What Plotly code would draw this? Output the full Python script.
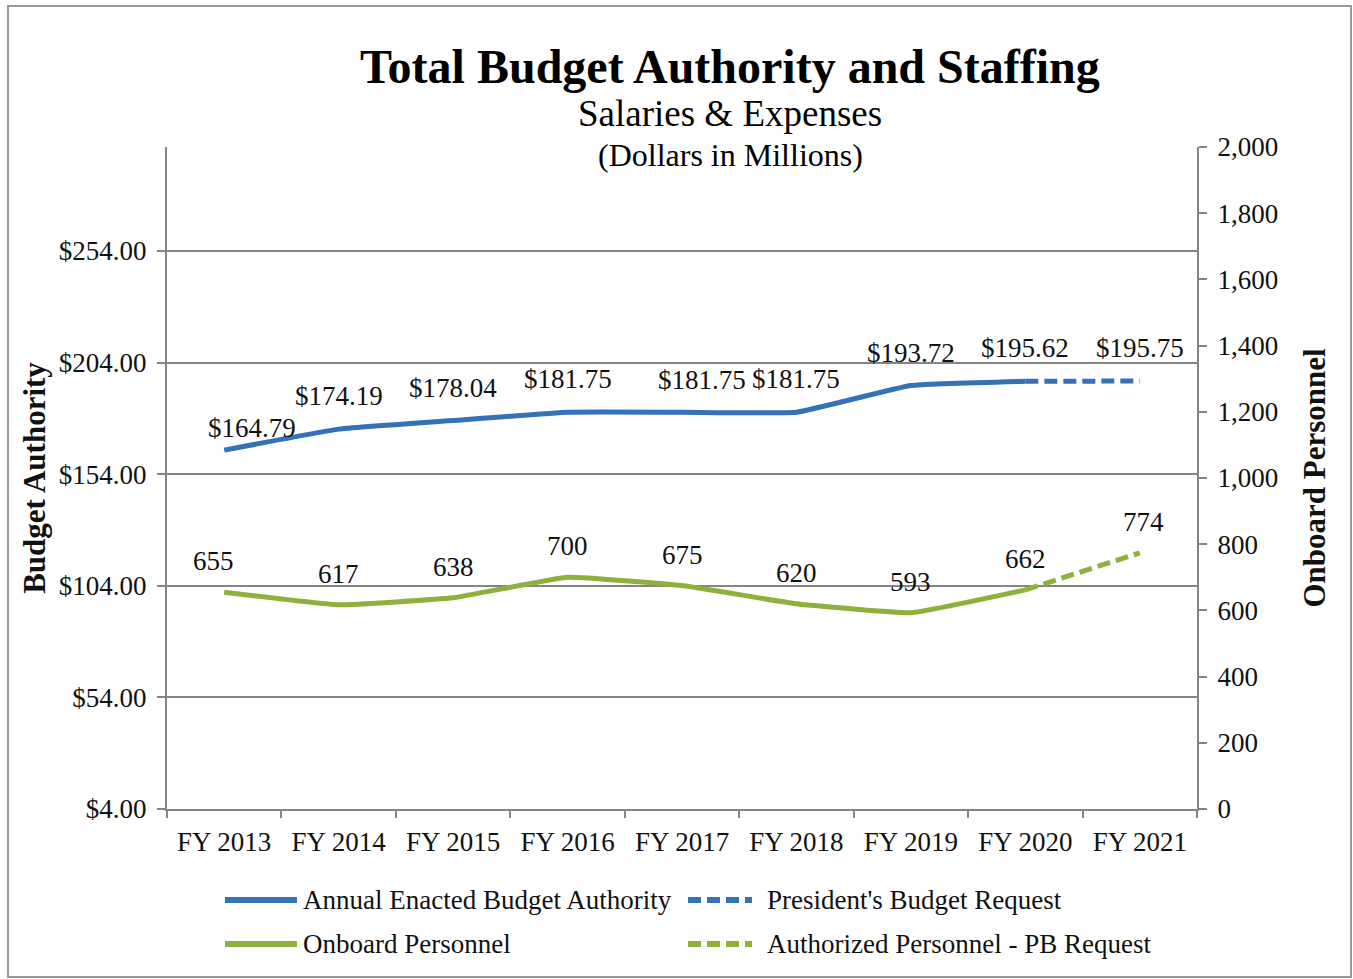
import plotly.graph_objects as go

# Fiscal years on the category axis
fiscal_years = ["FY 2013", "FY 2014", "FY 2015", "FY 2016", "FY 2017",
                "FY 2018", "FY 2019", "FY 2020", "FY 2021"]

# Annual enacted budget authority, $ millions (FY 2013 - FY 2020)
enacted_budget = [164.79, 174.19, 178.04, 181.75, 181.75, 181.75, 193.72, 195.62]
# President's budget request leg (FY 2020 -> FY 2021)
pb_request_budget = [195.62, 195.75]

# Onboard personnel (FY 2013 - FY 2020)
onboard_personnel = [655, 617, 638, 700, 675, 620, 593, 662]
# Authorized personnel, PB request leg (FY 2020 -> FY 2021)
authorized_personnel = [662, 774]

# Left axis tick labels
budget_ticks = [4, 54, 104, 154, 204, 254]
budget_tick_text = ["$4.00", "$54.00", "$104.00", "$154.00", "$204.00", "$254.00"]
# Right axis ticks
staff_ticks = list(range(0, 2001, 200))
staff_tick_text = [f"{v:,}" for v in staff_ticks]

BLUE = "#3471B6"
GREEN = "#8DB13C"
AXIS = "#858585"
INK = "#111111"
FONT = "Liberation Serif"
DASH = "13px,6px"

W, H = 1353, 979
L, R, T, B = 167, 156, 147, 170
pw, ph = W - L - R, H - T - B


def px_to_paper(px, py):
    return (px - L) / pw, (H - B - py) / ph


x_main = list(range(len(enacted_budget)))
x_req = [len(enacted_budget) - 1, len(fiscal_years) - 1]

fig = go.Figure()

fig.add_trace(go.Scatter(
    x=x_main, y=enacted_budget, mode="lines", name="Annual Enacted Budget Authority",
    line=dict(color=BLUE, width=5, shape="spline", smoothing=0.3), yaxis="y",
))
fig.add_trace(go.Scatter(
    x=x_req, y=pb_request_budget, mode="lines", name="President's Budget Request",
    line=dict(color=BLUE, width=5, dash=DASH), yaxis="y",
))
fig.add_trace(go.Scatter(
    x=x_main, y=onboard_personnel, mode="lines", name="Onboard Personnel",
    line=dict(color=GREEN, width=5, shape="spline", smoothing=0.3), yaxis="y2",
))
fig.add_trace(go.Scatter(
    x=x_req, y=authorized_personnel, mode="lines", name="Authorized Personnel - PB Request",
    line=dict(color=GREEN, width=5, dash=DASH), yaxis="y2",
))

# Value labels above each point
budget_values = enacted_budget + [pb_request_budget[-1]]
budget_nudge = {0: (28, 22), 4: (20, 32)}
for i, v in enumerate(budget_values):
    dx, dy = budget_nudge.get(i, (0, 33))
    fig.add_annotation(
        x=i, y=v, yref="y", text=f"${v:,.2f}", showarrow=False,
        xshift=dx, yshift=dy,
        font=dict(family=FONT, size=27, color=INK),
    )

staff_values = onboard_personnel + [authorized_personnel[-1]]
staff_nudge = {0: -11, 8: 4}
for i, v in enumerate(staff_values):
    fig.add_annotation(
        x=i, y=v, yref="y2", text=f"{v:,}", showarrow=False,
        xshift=staff_nudge.get(i, 0), yshift=31,
        font=dict(family=FONT, size=27, color=INK),
    )

# Title block
for text, size, cy in [
    ("<b>Total Budget Authority and Staffing</b>", 48, 66),
    ("Salaries &amp; Expenses", 37, 114),
    ("(Dollars in Millions)", 32, 155),
]:
    xp, yp = px_to_paper(730, cy)
    fig.add_annotation(
        x=xp, y=yp, xref="paper", yref="paper", text=text, showarrow=False,
        xanchor="center", yanchor="middle",
        font=dict(family=FONT, size=size, color="#000000"),
    )

# Legend drawn as line samples plus labels, two columns by two rows
legend_items = [
    ("Annual Enacted Budget Authority", BLUE, "solid", 225, 297, 301, 900),
    ("President's Budget Request", BLUE, DASH, 688, 752, 765, 900),
    ("Onboard Personnel", GREEN, "solid", 225, 297, 301, 944),
    ("Authorized Personnel - PB Request", GREEN, DASH, 688, 752, 765, 944),
]
for label, color, dash, sx0, sx1, tx, cy in legend_items:
    ax0, ay = px_to_paper(sx0, cy)
    ax1, _ = px_to_paper(sx1, cy)
    fig.add_shape(type="line", xref="paper", yref="paper", x0=ax0, x1=ax1, y0=ay, y1=ay,
                  line=dict(color=color, width=6, dash=dash))
    txp, _ = px_to_paper(tx, cy)
    fig.add_annotation(x=txp, y=ay, xref="paper", yref="paper", text=label,
                       showarrow=False, xanchor="left", yanchor="middle",
                       font=dict(family=FONT, size=27, color=INK))

# Outer chart frame
x0, y1 = px_to_paper(8, 6)
x1, y0 = px_to_paper(1351, 977)
fig.add_shape(type="rect", xref="paper", yref="paper", x0=x0, x1=x1, y0=y0, y1=y1,
              line=dict(color="#9A9A9A", width=2), layer="below")

fig.update_layout(
    width=W, height=H,
    margin=dict(l=L, r=R, t=T, b=B, autoexpand=False),
    paper_bgcolor="white", plot_bgcolor="white",
    font=dict(family=FONT, size=27, color=INK),
    showlegend=False,
    xaxis=dict(
        range=[-0.5, len(fiscal_years) - 0.5],
        tickmode="array", tickvals=list(range(len(fiscal_years))), ticktext=fiscal_years,
        ticks="", showgrid=False, zeroline=False, automargin=False,
        showline=True, linecolor=AXIS, linewidth=2, ticklabelstandoff=8,
        tickfont=dict(family=FONT, size=27, color=INK),
        minor=dict(tickmode="array", tickvals=[i - 0.5 for i in range(len(fiscal_years) + 1)],
                   ticks="outside", ticklen=7, tickcolor=AXIS, tickwidth=2, showgrid=False),
    ),
    yaxis=dict(
        range=[4, 300.6],
        tickmode="array", tickvals=budget_ticks, ticktext=budget_tick_text,
        ticks="outside", ticklen=8, tickcolor=AXIS, tickwidth=2, ticklabelstandoff=5,
        showgrid=True, gridcolor=AXIS, gridwidth=2, automargin=False,
        zeroline=False, showline=True, linecolor=AXIS, linewidth=2,
        tickfont=dict(family=FONT, size=27, color=INK),
        title=dict(text="<b>Budget Authority</b>", standoff=4,
                   font=dict(family=FONT, size=31, color=INK)),
    ),
    yaxis2=dict(
        range=[0, 2000], overlaying="y", side="right",
        tickmode="array", tickvals=staff_ticks, ticktext=staff_tick_text,
        ticks="outside", ticklen=8, tickcolor=AXIS, tickwidth=2, automargin=False,
        ticklabelstandoff=5,
        showgrid=False, zeroline=False, showline=True, linecolor=AXIS, linewidth=2,
        tickfont=dict(family=FONT, size=27, color=INK),
        title=dict(text="<b>Onboard Personnel</b>", standoff=26,
                   font=dict(family=FONT, size=31, color=INK)),
    ),
)

fig.write_html("out.html")
